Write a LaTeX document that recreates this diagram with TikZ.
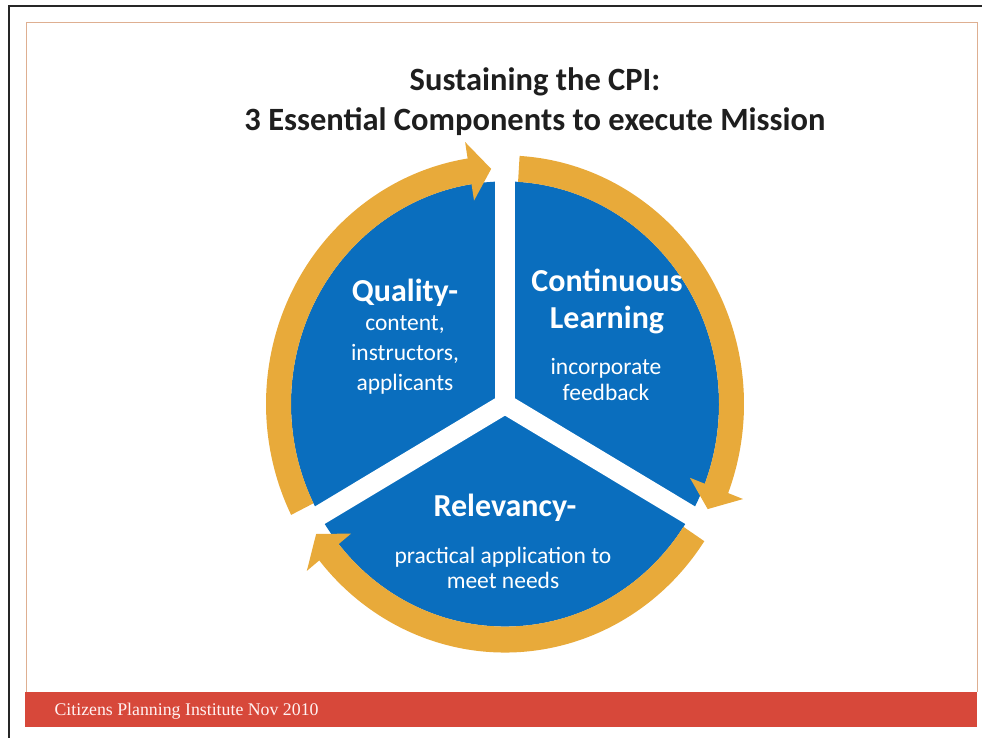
\documentclass[tikz,border=0pt]{standalone}
\usepackage{fontspec}
\setmainfont{Carlito}
\newfontfamily\footfont{Liberation Serif}
\definecolor{cpiblue}{RGB}{10,110,190}
\definecolor{cpiorange}{RGB}{232,170,58}
\definecolor{cpired}{RGB}{215,72,58}
\definecolor{cpitan}{RGB}{222,175,145}
\definecolor{cpititle}{RGB}{30,30,30}

\begin{document}
\begin{tikzpicture}[x=1pt,y=1pt,
    head/.style={text=white,font=\bfseries\fontsize{32}{37}\selectfont,align=center},
    body/.style={text=white,align=center},
    ringarrow/.style={fill=cpiorange}]
  \useasboundingbox (0,0) rectangle (982,738);
  % frame and footer
  \draw[black!85,line width=2.5] (9,0) -- (9,732) -- (982,732);
  \draw[cpitan,line width=1] (26,46) -- (26,715) -- (977,715) -- (977,46);
  \fill[cpired] (25,11) rectangle (977,46);
  \node[anchor=west,text=white!95!red,font=\footfont\fontsize{17.8}{20}\selectfont] (foot) at (51,27) {Citizens Planning Institute Nov 2010};

  \node[text=cpititle,font=\bfseries\fontsize{32.5}{40}\selectfont,align=center] (title) at (535,636) {Sustaining the CPI:\\3 Essential Components to execute Mission};

  % the wheel
  \begin{scope}[shift={(505,334)},yscale=1.04]
    \fill[cpiblue] (0,0) circle[radius=214];
    \foreach \a in {90,210,330}
      \draw[white,line width=20] (0,0) -- (\a:250);
    % three arrows, clockwise
    \foreach \t/\b/\p in {206.5/99/93.5, 86.5/-21/-26.5, -33.5/-141/-146.5}
      \fill[ringarrow] (\t:239) arc[start angle=\t,end angle=\b,radius=239]
        -- (\b:255) -- (\p:226.5) -- (\b:198) -- (\b:214)
        arc[start angle=\b,end angle=\t,radius=214] -- cycle;
  \end{scope}

  \node[head] (quality) at (405,445) {Quality-};
  \node[body,font=\fontsize{23.5}{30}\selectfont] (qualitytxt) at (405,383) {content,\\instructors,\\applicants};
  \node[head] (learning) at (607,436.5) {Continuous\\Learning};
  \node[body,font=\fontsize{23.5}{26}\selectfont] (learningtxt) at (606,358) {incorporate\\feedback};
  \node[head] (relevancy) at (505,230) {Relevancy-};
  \node[body,font=\fontsize{23.5}{25}\selectfont] (relevancytxt) at (503,170.5) {practical application to\\meet needs};
\end{tikzpicture}
\end{document}
